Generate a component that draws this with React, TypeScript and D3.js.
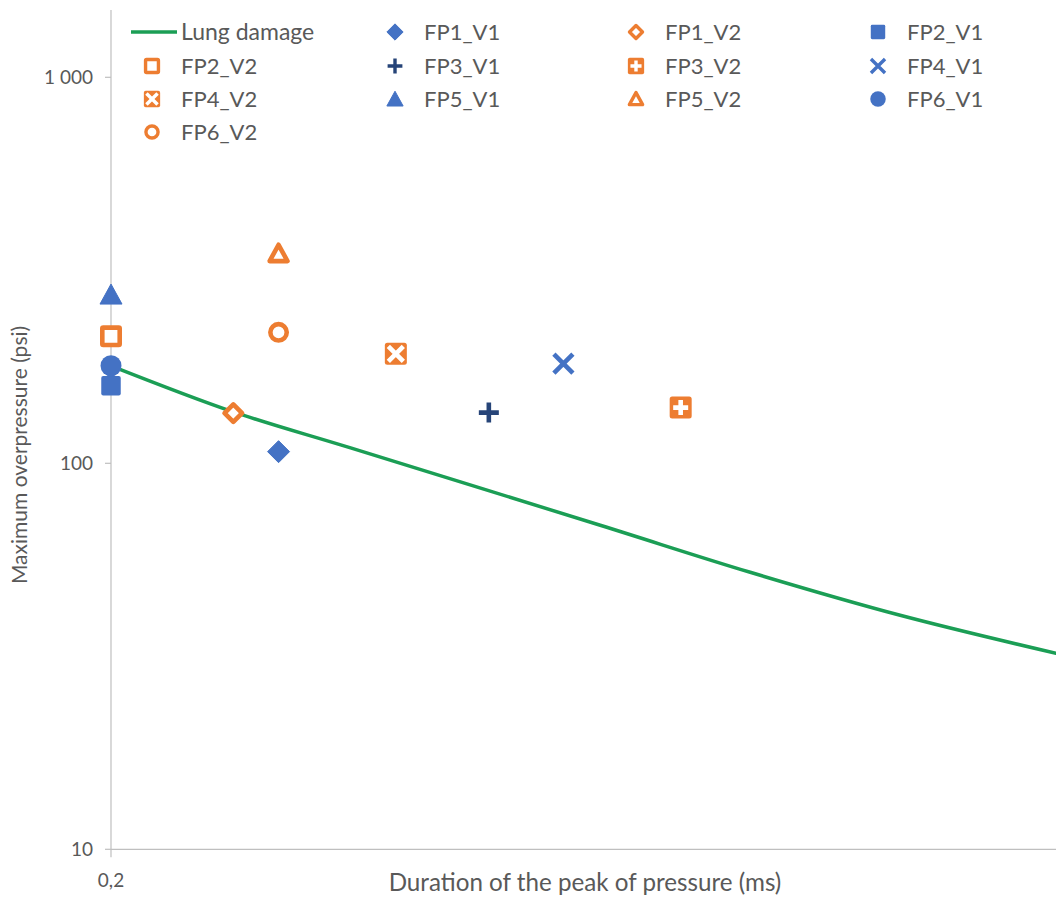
import React from "react";
import * as d3 from "d3";

// ---- Data ----
const lungDuration = [0.2, 0.346, 0.486, 0.784, 0.963, 1.142, 1.328];
const lungPressure = [178.9, 135.9, 109.6, 69.1, 52.2, 40.4, 32.2];

const seriesNames = [
  "FP1_V1", "FP1_V2", "FP2_V1", "FP2_V2", "FP3_V1", "FP3_V2",
  "FP4_V1", "FP4_V2", "FP5_V1", "FP5_V2", "FP6_V1", "FP6_V2",
];
const seriesDuration = [0.4, 0.346, 0.2, 0.2, 0.651, 0.88, 0.74, 0.54, 0.2, 0.4, 0.2, 0.4];
const seriesPressure = [107.2, 134.9, 158.8, 213.3, 135.3, 139.4, 181.1, 192.2, 273.6, 349.7, 178.9, 218.4];

const yTickValues = [10, 100, 1000];
const yTickLabels = ["10", "100", "1 000"];
const xTickValues = [0.2];
const xTickLabels = ["0,2"];

// ---- Styles ----
const BLUE = "#4472C4";
const ORANGE = "#ED7D31";
const DARKBLUE = "#264478";
const GREEN = "#1B9E55";
const TEXT = "#595959";
const AXIS = "#BFBFBF";
const FONT = "Lato, 'Open Sans', sans-serif";

type Shape = "diamond" | "square" | "plus" | "squarePlus" | "x" | "squareX" | "triangle" | "circle";
const seriesShape: Shape[] = [
  "diamond", "diamond", "square", "square", "plus", "squarePlus",
  "x", "squareX", "triangle", "triangle", "circle", "circle",
];
const seriesColor = [BLUE, ORANGE, BLUE, ORANGE, DARKBLUE, ORANGE, BLUE, ORANGE, BLUE, ORANGE, BLUE, ORANGE];
const seriesHollow = [false, true, false, true, false, false, false, false, false, true, false, true];

function Marker({ x, y, shape, color, hollow, s }: { x: number; y: number; shape: Shape; color: string; hollow: boolean; s: number }) {
  const sw = 4.6 * s;
  const h = 11 * s;
  switch (shape) {
    case "diamond":
      if (hollow) {
        const r = 12 * s - sw * 0.7;
        return <path d={`M${x},${y - r}L${x + r},${y}L${x},${y + r}L${x - r},${y}Z`} fill="#fff" stroke={color} strokeWidth={sw} strokeLinejoin="round" />;
      }
      return <path d={`M${x},${y - h}L${x + h},${y}L${x},${y + h}L${x - h},${y}Z`} fill={color} stroke={color} strokeWidth={1} strokeLinejoin="round" />;
    case "square":
      if (hollow) {
        const a = 22 * s - sw;
        return <rect x={x - a / 2} y={y - a / 2} width={a} height={a} fill="#fff" stroke={color} strokeWidth={sw} rx={1} />;
      } else {
        const a = 19.5 * s;
        return <rect x={x - a / 2} y={y - a / 2} width={a} height={a} fill={color} rx={2 * s} />;
      }
    case "triangle": {
      const w = 22 * s, ht = 19 * s;
      if (hollow) {
        const w2 = w - sw * 0.9, h2 = ht - sw * 0.8;
        return <path d={`M${x},${y - h2 / 2 - 1 * s}L${x + w2 / 2},${y + h2 / 2}L${x - w2 / 2},${y + h2 / 2}Z`} fill="#fff" stroke={color} strokeWidth={sw} strokeLinejoin="round" />;
      }
      return <path d={`M${x},${y - ht / 2 - 1 * s}L${x + w / 2},${y + ht / 2}L${x - w / 2},${y + ht / 2}Z`} fill={color} stroke={color} strokeWidth={1} strokeLinejoin="round" />;
    }
    case "circle":
      if (hollow) return <circle cx={x} cy={y} r={10.5 * s - sw / 2} fill="#fff" stroke={color} strokeWidth={sw} />;
      return <circle cx={x} cy={y} r={10.5 * s} fill={color} />;
    case "plus": {
      const a = 10 * s;
      return <path d={`M${x - a},${y}H${x + a}M${x},${y - a}V${y + a}`} stroke={color} strokeWidth={sw} fill="none" />;
    }
    case "x": {
      const a = 9.5 * s;
      return <path d={`M${x - a},${y - a}L${x + a},${y + a}M${x + a},${y - a}L${x - a},${y + a}`} stroke={color} strokeWidth={sw} fill="none" />;
    }
    case "squarePlus":
    case "squareX": {
      const a = 22 * s;
      const c = 7.5 * s;
      const inner = shape === "squarePlus"
        ? `M${x - c},${y}H${x + c}M${x},${y - c}V${y + c}`
        : `M${x - c},${y - c}L${x + c},${y + c}M${x + c},${y - c}L${x - c},${y + c}`;
      return (
        <g>
          <rect x={x - a / 2} y={y - a / 2} width={a} height={a} fill={color} rx={2.5 * s} />
          <path d={inner} stroke="#fff" strokeWidth={sw} fill="none" />
        </g>
      );
    }
  }
  return null;
}

export default function App() {
  const width = 1056;
  const height = 898;
  const x0 = 111, x1 = 1056;
  const y = d3.scaleLog().domain([10, 1000]).range([849.3, 77.3]);
  const x = d3.scaleLinear().domain([0.2, 1.328]).range([x0, x1]);
  const yTop = 10;
  const yBottom = y(10);

  const lineGen = d3.line<number>()
    .x((_, i) => x(lungDuration[i]))
    .y((d) => y(d))
    .curve(d3.curveCatmullRom.alpha(0.5));

  const legendItems = ["Lung damage", ...seriesNames];
  const colText = [181, 424, 665, 907];
  const rowY = [32, 66, 99, 132];

  return (
    <svg width={width} height={height} style={{ display: "block", position: "absolute", left: 0, top: 0, background: "#fff" }} fontFamily={FONT}>
      <rect x={0} y={0} width={width} height={height} fill="#fff" />
      {/* axes */}
      <line x1={x0} x2={x0} y1={yTop} y2={yBottom + 8} stroke={AXIS} strokeWidth={1.2} />
      <line x1={x0} x2={x1} y1={yBottom} y2={yBottom} stroke={AXIS} strokeWidth={1.2} />
      {yTickValues.map((v, i) => (
        <g key={v}>
          <line x1={x0 - 6} x2={x0} y1={y(v)} y2={y(v)} stroke={AXIS} strokeWidth={1.2} />
          <text x={93} y={y(v)} dy="0.36em" textAnchor="end" fontSize={19} fill={TEXT}>{yTickLabels[i]}</text>
        </g>
      ))}
      {xTickValues.map((v, i) => (
        <text key={v} x={x(v)} y={887} textAnchor="middle" fontSize={19} fill={TEXT}>{xTickLabels[i]}</text>
      ))}
      <text x={585} y={891} textAnchor="middle" fontSize={24.2} fill={TEXT}>Duration of the peak of pressure (ms)</text>
      <text transform={`translate(27,455) rotate(-90)`} textAnchor="middle" fontSize={21} fill={TEXT}>Maximum overpressure (psi)</text>

      {/* line */}
      <path d={lineGen(lungPressure) || ""} fill="none" stroke={GREEN} strokeWidth={3.5} strokeLinecap="round" />

      {/* points */}
      {seriesNames.map((n, i) => (
        <Marker key={n} x={x(seriesDuration[i])} y={y(seriesPressure[i])} shape={seriesShape[i]} color={seriesColor[i]} hollow={seriesHollow[i]} s={1} />
      ))}

      {/* legend */}
      {legendItems.map((name, k) => {
        const col = k % 4;
        const row = Math.floor(k / 4);
        const tx = colText[col];
        const ty = rowY[row];
        return (
          <g key={name}>
            {k === 0 ? (
              <line x1={131} x2={177} y1={ty} y2={ty} stroke={GREEN} strokeWidth={3.5} />
            ) : (
              <Marker x={tx - 29} y={ty} shape={seriesShape[k - 1]} color={seriesColor[k - 1]} hollow={seriesHollow[k - 1]} s={0.74} />
            )}
            <text x={tx} y={ty} dy="0.36em" fontSize={k === 0 ? 23 : 22} fill={TEXT}>{name}</text>
          </g>
        );
      })}
    </svg>
  );
}
